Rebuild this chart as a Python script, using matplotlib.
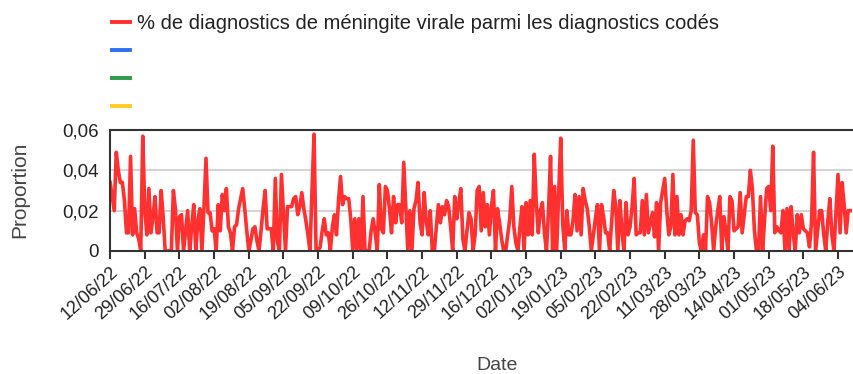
import numpy as np
import pandas as pd
import matplotlib.pyplot as plt
from matplotlib.lines import Line2D
from matplotlib.ticker import FuncFormatter

plt.rcParams['font.family'] = ['Liberation Sans', 'DejaVu Sans']

# Daily share of viral meningitis among coded diagnoses
start_date = '2022-06-12'
proportion = [
    0.034, 0.027, 0.020, 0.049, 0.040, 0.034, 0.034, 0.025, 0.009, 0.009,
    0.047, 0.008, 0.021, 0.009, 0.006, 0.000, 0.057, 0.020, 0.008, 0.031,
    0.009, 0.017, 0.027, 0.009, 0.009, 0.030, 0.017, 0.000, 0.000, 0.000,
    0.000, 0.030, 0.021, 0.000, 0.017, 0.018, 0.000, 0.010, 0.020, 0.000,
    0.012, 0.023, 0.000, 0.015, 0.021, 0.000, 0.021, 0.046, 0.019, 0.019,
    0.010, 0.011, 0.000, 0.023, 0.010, 0.028, 0.020, 0.031, 0.012, 0.009,
    0.000, 0.012, 0.013, 0.021, 0.026, 0.031, 0.021, 0.010, 0.000, 0.005,
    0.011, 0.012, 0.005, 0.000, 0.010, 0.021, 0.030, 0.011, 0.011, 0.011,
    0.000, 0.036, 0.005, 0.000, 0.038, 0.019, 0.000, 0.022, 0.022, 0.022,
    0.026, 0.027, 0.018, 0.022, 0.029, 0.021, 0.015, 0.008, 0.000, 0.030,
    0.058, 0.000, 0.000, 0.002, 0.010, 0.016, 0.008, 0.009, 0.000, 0.012,
    0.018, 0.008, 0.025, 0.037, 0.023, 0.027, 0.026, 0.026, 0.016, 0.000,
    0.016, 0.000, 0.016, 0.000, 0.027, 0.000, 0.000, 0.000, 0.010, 0.016,
    0.009, 0.000, 0.033, 0.011, 0.009, 0.032, 0.030, 0.021, 0.009, 0.027,
    0.014, 0.023, 0.023, 0.014, 0.044, 0.022, 0.000, 0.020, 0.000, 0.021,
    0.025, 0.034, 0.014, 0.008, 0.029, 0.015, 0.008, 0.020, 0.000, 0.000,
    0.012, 0.023, 0.014, 0.022, 0.018, 0.025, 0.022, 0.012, 0.000, 0.027,
    0.016, 0.024, 0.031, 0.006, 0.000, 0.010, 0.019, 0.016, 0.000, 0.008,
    0.030, 0.032, 0.010, 0.029, 0.012, 0.023, 0.008, 0.022, 0.030, 0.000,
    0.021, 0.014, 0.006, 0.000, 0.000, 0.008, 0.016, 0.032, 0.012, 0.004,
    0.000, 0.012, 0.022, 0.000, 0.024, 0.008, 0.025, 0.008, 0.048, 0.024,
    0.009, 0.020, 0.024, 0.009, 0.000, 0.020, 0.047, 0.000, 0.032, 0.000,
    0.029, 0.056, 0.013, 0.000, 0.020, 0.008, 0.008, 0.015, 0.028, 0.010,
    0.027, 0.008, 0.031, 0.025, 0.021, 0.012, 0.000, 0.008, 0.016, 0.023,
    0.000, 0.023, 0.017, 0.009, 0.009, 0.000, 0.015, 0.030, 0.022, 0.000,
    0.025, 0.010, 0.000, 0.024, 0.008, 0.012, 0.022, 0.036, 0.008, 0.009,
    0.009, 0.025, 0.008, 0.028, 0.009, 0.014, 0.019, 0.007, 0.024, 0.000,
    0.024, 0.030, 0.036, 0.020, 0.008, 0.012, 0.038, 0.008, 0.027, 0.008,
    0.018, 0.008, 0.015, 0.016, 0.015, 0.020, 0.055, 0.019, 0.018, 0.004,
    0.000, 0.008, 0.000, 0.027, 0.024, 0.014, 0.000, 0.012, 0.020, 0.027,
    0.000, 0.017, 0.010, 0.000, 0.027, 0.025, 0.010, 0.011, 0.012, 0.029,
    0.009, 0.018, 0.027, 0.027, 0.040, 0.031, 0.010, 0.000, 0.000, 0.027,
    0.000, 0.016, 0.031, 0.032, 0.020, 0.052, 0.009, 0.012, 0.010, 0.009,
    0.020, 0.000, 0.021, 0.000, 0.022, 0.009, 0.000, 0.018, 0.009, 0.018,
    0.011, 0.010, 0.009, 0.002, 0.014, 0.049, 0.000, 0.010, 0.020, 0.020,
    0.008, 0.000, 0.015, 0.026, 0.008, 0.000, 0.019, 0.038, 0.009, 0.034,
    0.023, 0.009, 0.020, 0.020, 0.020,
]
series_labels = ['% de diagnostics de méningite virale parmi les diagnostics codés', '', '', '']
series_colors = ['#ff3030', '#2f6fee', '#2e9a46', '#ffcc22']
y_ticks = [0, 0.02, 0.04, 0.06]

dates = pd.date_range(start_date, periods=len(proportion), freq='D')

fig = plt.figure(figsize=(8.54, 3.74), dpi=100)
ax = fig.add_axes([0.129, 0.329, 0.869, 0.323])

ax.plot(dates, proportion, color=series_colors[0], lw=2.6, solid_joinstyle='round')

ax.set_xlim(dates[0], dates[-1])
ax.set_ylim(0, 0.06)
ax.set_yticks(y_ticks)
ax.yaxis.set_major_formatter(FuncFormatter(lambda v, p: '0' if v == 0 else f'{v:.2f}'.replace('.', ',')))
ax.grid(axis='y', color='#cccccc', lw=1.2)
ax.set_axisbelow(True)

tick_dates = pd.date_range(start_date, dates[-1], freq='17D')
ax.set_xticks(tick_dates)
ax.set_xticklabels([d.strftime('%d/%m/%y') for d in tick_dates], rotation=42,
                   ha='right', rotation_mode='anchor', fontsize=13, color='#222222')
ax.tick_params(axis='x', length=6, width=1.5, color='#333333', pad=3)
ax.tick_params(axis='y', length=0, labelsize=13.5, labelcolor='#222222', pad=8)

for side in ['left', 'bottom', 'top']:
    ax.spines[side].set_color('#333333')
    ax.spines[side].set_linewidth(1.5)
ax.spines['right'].set_visible(False)

fig.text(20 / 854, 0.492, 'Proportion', rotation=90, fontsize=15, color='#444444',
         ha='center', va='center')
fig.text(0.582, 0.024, 'Date', fontsize=14, color='#444444', ha='center', va='center')

handles = [Line2D([], [], color=c, lw=2.8) for c in series_colors]
fig.legend(handles, series_labels, loc='upper left', bbox_to_anchor=(0.110, 1.010),
           frameon=False, fontsize=14.5, handlelength=0.9, handletextpad=0.35,
           labelspacing=0.44, labelcolor='#222222')

fig.savefig('out.png', dpi=100)
